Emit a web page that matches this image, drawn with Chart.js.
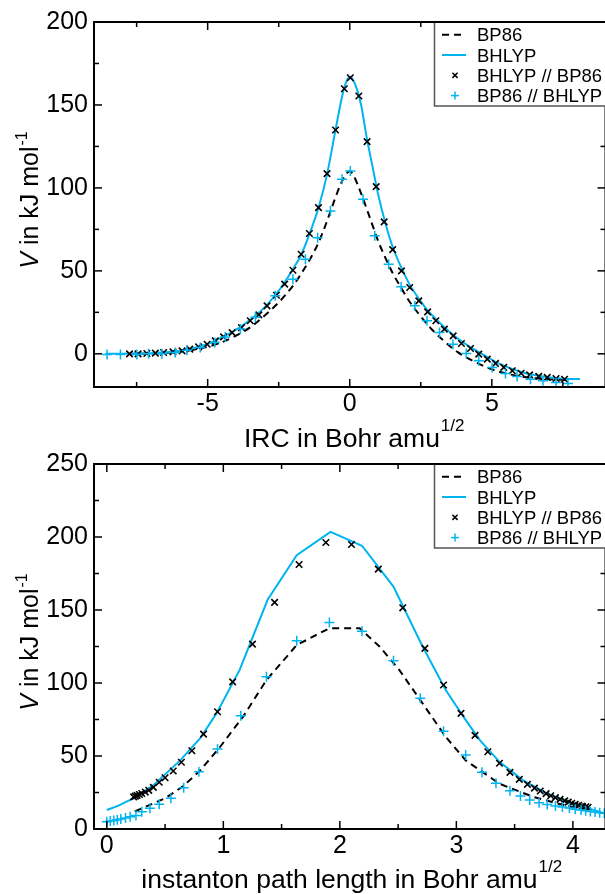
<!DOCTYPE html>
<html><head><meta charset="utf-8">
<script src="https://cdn.jsdelivr.net/npm/chart.js@4"></script>
<style>
html,body{margin:0;padding:0;background:#fff;overflow:hidden;width:605px;height:894px;}
.wrap{position:absolute;left:0;width:612px;height:452px;}
canvas{display:block;}
</style></head><body>
<div class="wrap" style="top:0"><canvas id="c1" width="612" height="452"></canvas></div>
<div class="wrap" style="top:442px"><canvas id="c2" width="612" height="452"></canvas></div>
<script>
// ---------- data: top panel (IRC) ----------
const ircBP86 = [[-7.8,0],[-7,0.2],[-6.5,0.6],[-6,1.2],[-5.5,2.5],[-5,4.3],[-4.5,7],[-4,11],[-3.5,16],[-3,23],[-2.5,31],[-2,41],[-1.7,48.5],[-1.4,57],[-1.1,67],[-0.8,80],[-0.55,92],[-0.3,103],[-0.12,108.5],[0,110],[0.12,108],[0.3,101],[0.5,92],[0.75,80],[1.0,68],[1.25,58],[1.5,49],[1.8,40],[2.1,31.5],[2.5,22.5],[2.9,14.5],[3.3,8],[3.8,1],[4.3,-4],[4.8,-8],[5.3,-11],[5.8,-13],[6.4,-14.5],[7.0,-15.3],[7.6,-15.8]];
const ircBHLYP = [[-8.6,0],[-8,0.1],[-7,0.4],[-6.5,0.9],[-6,1.7],[-5.5,3.4],[-5,6],[-4.5,10],[-4,14.5],[-3.5,20.5],[-3,28],[-2.5,38],[-2,51],[-1.7,60],[-1.4,73],[-1.1,88],[-0.8,108],[-0.5,135],[-0.2,160],[0,167],[0.2,162],[0.4,150],[0.6,130],[0.8,113],[1.0,96],[1.25,79],[1.5,65],[1.8,52.5],[2.1,42],[2.4,34],[2.7,27],[3.0,21.5],[3.3,16.5],[3.6,12],[3.9,8],[4.2,4.5],[4.5,1.5],[4.8,-1.5],[5.1,-4.5],[5.4,-7],[5.7,-9],[6.0,-10.8],[6.4,-12.5],[6.8,-13.7],[7.2,-14.5],[7.6,-15],[8.1,-15.2]];
const ircBHLYPatBP86 = [[-7.75,0],[-7.45,0],[-7.14,0.2],[-6.84,0.4],[-6.55,0.8],[-6.22,1.2],[-5.9,1.8],[-5.63,2.8],[-5.32,4.2],[-5.02,5.8],[-4.73,7.8],[-4.44,10.2],[-4.14,12.8],[-3.81,15.8],[-3.5,19.9],[-3.2,23.5],[-2.91,28.9],[-2.58,35.3],[-2.29,42],[-2.0,50.4],[-1.71,60],[-1.42,72.5],[-1.1,88.1],[-0.8,108.6],[-0.5,134.9],[-0.19,159.8],[0.02,166.4],[0.32,155.4],[0.61,127.9],[0.93,100.8],[1.21,79.5],[1.51,62.8],[1.82,50],[2.11,40],[2.43,31.9],[2.74,25.3],[3.03,19.9],[3.33,14.9],[3.64,10.8],[3.93,6.2],[4.25,3.2],[4.54,-0.2],[4.84,-3.2],[5.13,-5.8],[5.42,-8.2],[5.72,-10.2],[6.03,-11.7],[6.33,-12.7],[6.65,-13.6],[6.95,-14.2],[7.26,-14.9],[7.56,-15.3]];
const ircBP86atBHLYP = [[-8.54,-0.4],[-8.07,-0.4],[-7.49,-0.4],[-7.08,0],[-6.61,0],[-6.14,0.8],[-5.73,2.2],[-5.26,3.8],[-4.75,6.8],[-4.38,10.2],[-3.85,14.9],[-3.32,22],[-2.62,35],[-2.0,45],[-1.56,57],[-1.13,70],[-0.68,86.1],[-0.27,105.2],[0.02,110.2],[0.47,93.2],[0.88,71.1],[1.37,54],[1.81,40.4],[2.29,28.9],[2.72,19.9],[3.16,12.8],[3.63,5.8],[4.1,0.2],[4.54,-4.2],[5.01,-8.2],[5.48,-11.8],[5.89,-13.6],[6.36,-15.3],[6.8,-16.3],[7.26,-17.3],[7.68,-17.9]];
const ircXTicks = [-5, 0, 5];
const ircXMinor = [-7.5, -2.5, 2.5, 7.5];
const ircYTicks = [0, 50, 100, 150, 200];
const ircYMinor = [25, 75, 125, 175];

// ---------- data: bottom panel (instanton) ----------
const instBP86 = [[0.24,12],[0.5,21],[0.65,29],[0.8,40],[0.97,56],[1.17,77],[1.37,102],[1.63,126],[1.91,137.5],[2.17,137.5],[2.34,125],[2.51,109],[2.71,86],[2.91,63],[3.08,47],[3.37,31],[3.66,22],[3.97,15.3],[4.13,13]];
const instBHLYP = [[0,13],[0.1,16],[0.24,21.5],[0.4,30],[0.63,47],[0.8,62],[0.94,79],[1.14,109],[1.38,157],[1.63,187.5],[1.92,203.5],[2.19,194],[2.46,166],[2.71,125],[2.91,95],[3.06,77],[3.2,61],[3.37,46],[3.57,33.5],[3.77,24.5],[4.0,17.5],[4.28,10.5]];
const instBHLYPatBP86 = [[0.23,22],[0.245,22.5],[0.26,23],[0.28,23.6],[0.30,24.3],[0.33,25.3],[0.36,26.5],[0.40,28.5],[0.45,32],[0.5,35.1],[0.57,39.7],[0.64,45.7],[0.73,53.6],[0.83,65],[0.95,80.3],[1.08,100.8],[1.25,126.6],[1.44,155.2],[1.65,181.2],[1.88,196.2],[2.1,194.9],[2.33,178],[2.54,151.5],[2.73,123.7],[2.89,98.6],[3.04,79.2],[3.16,64.1],[3.27,52.9],[3.37,45],[3.46,38.8],[3.54,34],[3.61,30.6],[3.67,28],[3.72,26],[3.77,24.2],[3.81,22.8],[3.85,21.5],[3.89,20.3],[3.93,19.3],[3.96,18.4],[3.99,17.6],[4.02,16.9],[4.05,16.3],[4.08,15.7],[4.11,15.2],[4.13,14.9]];
const instBP86atBHLYP = [[0,5],[0.03,5.4],[0.06,5.9],[0.09,6.3],[0.12,6.9],[0.16,7.5],[0.2,8.4],[0.25,9.3],[0.3,11.8],[0.37,14.2],[0.45,16.9],[0.55,21],[0.66,28.3],[0.79,39.2],[0.95,54.8],[1.15,77.6],[1.37,104.2],[1.63,128.9],[1.91,141.5],[2.19,135.5],[2.46,115.2],[2.69,89.5],[2.89,67],[3.08,50.6],[3.22,38.8],[3.34,31.3],[3.46,26.2],[3.55,22.6],[3.63,19.8],[3.71,18],[3.78,16.8],[3.85,15.8],[3.91,15],[3.97,14.3],[4.02,13.6],[4.07,13],[4.11,12.5],[4.15,12],[4.19,11.6],[4.23,11.2],[4.27,10.8]];
const instXTicks = [0, 1, 2, 3, 4];
const instXMinor = [0.5, 1.5, 2.5, 3.5];
const instYTicks = [0, 50, 100, 150, 200, 250];
const instYMinor = [25, 75, 125, 175, 225];

const legendLabels = ['BP86', 'BHLYP', 'BHLYP // BP86', 'BP86 // BHLYP'];
const BLUE = '#00b4f0';
const FONT = "'Liberation Sans', Arial, Helvetica, sans-serif";

const pts = a => a.map(p => ({x: p[0], y: p[1]}));

const decor = {
  id: 'decor',
  afterDraw(chart, args, o) {
    const {ctx, chartArea: a, scales: {x, y}} = chart;
    ctx.save();
    ctx.strokeStyle = '#000';
    ctx.lineCap = 'butt';
    const seg = (x1, y1, x2, y2) => { ctx.beginPath(); ctx.moveTo(x1, y1); ctx.lineTo(x2, y2); ctx.stroke(); };
    ctx.lineWidth = 1.5;
    const xt = (vals, len) => vals.forEach(v => { const p = x.getPixelForValue(v); seg(p, a.bottom, p, a.bottom - len); seg(p, a.top, p, a.top + len); });
    const yt = (vals, len) => vals.forEach(v => { const p = y.getPixelForValue(v); seg(a.left, p, a.left + len, p); seg(a.right, p, a.right - len, p); });
    xt(o.xMajor, 8); xt(o.xMinor, 5); yt(o.yMajor, 8); yt(o.yMinor, 5);
    ctx.lineWidth = 2;
    ctx.strokeRect(a.left, a.top, a.right - a.left, a.bottom - a.top);

    // legend
    const lx = 434.5, ly = a.top, lh = 84;
    ctx.fillStyle = '#fff';
    ctx.fillRect(lx, ly, 200, lh);
    ctx.strokeStyle = '#555'; ctx.lineWidth = 1.5;
    ctx.strokeRect(lx, ly, 200, lh);
    ctx.strokeStyle = '#000'; ctx.lineWidth = 2;
    ctx.beginPath(); ctx.moveTo(a.left + 0, a.top); ctx.lineTo(a.right, a.top); ctx.stroke();
    const rows = [34.7, 55, 75.3, 95.6];
    // row 0 dashed black
    ctx.lineWidth = 2; ctx.strokeStyle = '#000'; ctx.setLineDash([7, 5]);
    seg(442, rows[0], 466, rows[0]);
    ctx.setLineDash([]);
    ctx.strokeStyle = BLUE;
    seg(442, rows[1], 466, rows[1]);
    ctx.lineWidth = 1.5; ctx.strokeStyle = '#000';
    let r = 2.6;
    seg(455 - r, rows[2] - r, 455 + r, rows[2] + r); seg(455 - r, rows[2] + r, 455 + r, rows[2] - r);
    ctx.strokeStyle = BLUE; r = 4;
    seg(455 - r, rows[3], 455 + r, rows[3]); seg(455, rows[3] - r, 455, rows[3] + r);
    ctx.fillStyle = '#000';
    ctx.font = '18.5px ' + FONT;
    ctx.textAlign = 'left'; ctx.textBaseline = 'alphabetic';
    legendLabels.forEach((t, i) => ctx.fillText(t, 477, rows[i] + 6.6));

    // x title with superscript
    ctx.font = '26.5px ' + FONT;
    const wMain = ctx.measureText(o.xTitle).width;
    ctx.font = '17px ' + FONT;
    const wSup = ctx.measureText('1/2').width;
    const cx = (a.left + a.right) / 2 + o.xShift;
    const x0 = cx - (wMain + wSup) / 2;
    ctx.font = '26.5px ' + FONT;
    ctx.fillText(o.xTitle, x0, o.xBase);
    ctx.font = '17px ' + FONT;
    ctx.fillText('1/2', x0 + wMain + 1, o.xBase - 16);

    // y title rotated
    const cy = (a.top + a.bottom) / 2 - 4;
    ctx.save();
    ctx.translate(38, cy);
    ctx.rotate(-Math.PI / 2);
    ctx.font = 'italic 25px ' + FONT;
    const wV = ctx.measureText('V').width;
    ctx.font = '25px ' + FONT;
    const wRest = ctx.measureText(' in kJ mol').width;
    ctx.font = '16px ' + FONT;
    const wS = ctx.measureText('-1').width;
    const u0 = -(wV + wRest + wS) / 2;
    ctx.font = 'italic 25px ' + FONT;
    ctx.fillText('V', u0, 0);
    ctx.font = '25px ' + FONT;
    ctx.fillText(' in kJ mol', u0 + wV, 0);
    ctx.font = '16px ' + FONT;
    ctx.fillText('-1', u0 + wV + wRest + 1, -11);
    ctx.restore();
    ctx.restore();
  }
};

function build(id, d) {
  return new Chart(document.getElementById(id), {
    type: 'scatter',
    data: { datasets: [
      { label: legendLabels[0], data: pts(d.bp), showLine: true, borderColor: '#000', borderWidth: 2, borderDash: [7, 5], pointRadius: 0, tension: d.tension, cubicInterpolationMode: d.mono ? 'monotone' : 'default', order: 4 },
      { label: legendLabels[1], data: pts(d.bh), showLine: true, borderColor: BLUE, borderWidth: 2, pointRadius: 0, tension: d.tension, cubicInterpolationMode: d.mono ? 'monotone' : 'default', order: 3 },
      { label: legendLabels[2], data: pts(d.bhAtBp), showLine: false, pointStyle: 'crossRot', pointRadius: 4.6, borderColor: '#000', backgroundColor: '#000', pointBorderWidth: 1.6, order: 2 },
      { label: legendLabels[3], data: pts(d.bpAtBh), showLine: false, pointStyle: 'cross', pointRadius: 5, borderColor: BLUE, backgroundColor: BLUE, pointBorderWidth: 1.5, order: 1 }
    ]},
    options: {
      responsive: false, animation: false, devicePixelRatio: 1,
      layout: { padding: { top: 22, right: 6, left: 0, bottom: 0 } },
      plugins: { legend: { display: false }, tooltip: { enabled: false }, decor: d.decor },
      scales: {
        x: { type: 'linear', min: d.xmin, max: d.xmax,
          afterBuildTicks: s => { s.ticks = d.decor.xMajor.map(v => ({ value: v })); },
          afterFit: s => { s.height = 65; },
          grid: { display: false, drawTicks: false }, border: { display: false },
          ticks: { color: '#000', font: { family: FONT, size: 25 }, padding: 2, maxRotation: 0, autoSkip: false, callback: v => String(v) } },
        y: { type: 'linear', min: d.ymin, max: d.ymax,
          afterBuildTicks: s => { s.ticks = d.decor.yMajor.map(v => ({ value: v })); },
          afterFit: s => { s.width = 94; },
          grid: { display: false, drawTicks: false }, border: { display: false },
          ticks: { color: '#000', font: { family: FONT, size: 25 }, padding: 6, autoSkip: false, callback: v => String(v) } }
      }
    },
    plugins: [decor]
  });
}

build('c1', { bp: ircBP86, bh: ircBHLYP, bhAtBp: ircBHLYPatBP86, bpAtBh: ircBP86atBHLYP, tension: 0.4, mono: true,
  xmin: -9, xmax: 9, ymin: -20, ymax: 200,
  decor: { xMajor: ircXTicks, xMinor: ircXMinor, yMajor: ircYTicks, yMinor: ircYMinor, xTitle: 'IRC in Bohr amu', xBase: 447, xShift: 4 } });
build('c2', { bp: instBP86, bh: instBHLYP, bhAtBp: instBHLYPatBP86, bpAtBh: instBP86atBHLYP, tension: 0, mono: false,
  xmin: -0.11, xmax: 4.28, ymin: 0, ymax: 250,
  decor: { xMajor: instXTicks, xMinor: instXMinor, yMajor: instYTicks, yMinor: instYMinor, xTitle: 'instanton path length in Bohr amu', xBase: 446, xShift: 1.5 } });
</script>
</body></html>
